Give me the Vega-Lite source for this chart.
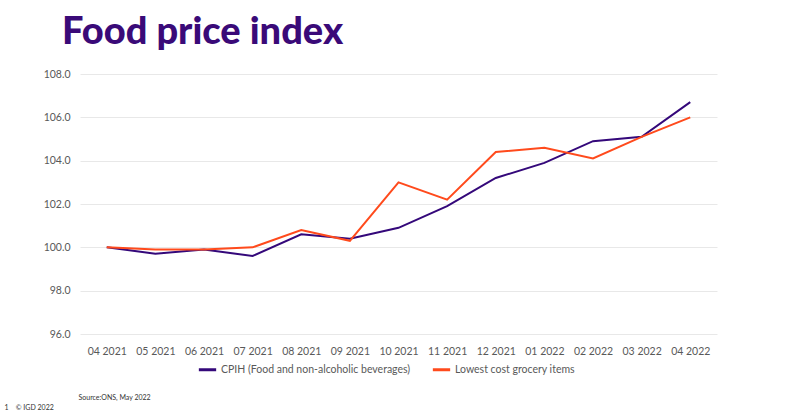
{
  "$schema": "https://vega.github.io/schema/vega-lite/v6.json",
  "autosize": {"type": "none"},
  "padding": {"left": 80, "top": 74, "right": 83, "bottom": 82},
  "width": 637,
  "height": 260,
  "background": "white",
  "title": {
    "text": "Food price index",
    "anchor": "start",
    "frame": "group",
    "dx": -18,
    "offset": 17,
    "font": "Lato",
    "fontWeight": 900,
    "fontSize": 38,
    "color": "#3a0a78"
  },
  "data": {
    "values": [
      {"month": "04 2021", "series": "CPIH (Food and non-alcoholic beverages)", "value": 100.0},
      {"month": "05 2021", "series": "CPIH (Food and non-alcoholic beverages)", "value": 99.7},
      {"month": "06 2021", "series": "CPIH (Food and non-alcoholic beverages)", "value": 99.9},
      {"month": "07 2021", "series": "CPIH (Food and non-alcoholic beverages)", "value": 99.6},
      {"month": "08 2021", "series": "CPIH (Food and non-alcoholic beverages)", "value": 100.6},
      {"month": "09 2021", "series": "CPIH (Food and non-alcoholic beverages)", "value": 100.4},
      {"month": "10 2021", "series": "CPIH (Food and non-alcoholic beverages)", "value": 100.9},
      {"month": "11 2021", "series": "CPIH (Food and non-alcoholic beverages)", "value": 101.9},
      {"month": "12 2021", "series": "CPIH (Food and non-alcoholic beverages)", "value": 103.2},
      {"month": "01 2022", "series": "CPIH (Food and non-alcoholic beverages)", "value": 103.9},
      {"month": "02 2022", "series": "CPIH (Food and non-alcoholic beverages)", "value": 104.9},
      {"month": "03 2022", "series": "CPIH (Food and non-alcoholic beverages)", "value": 105.1},
      {"month": "04 2022", "series": "CPIH (Food and non-alcoholic beverages)", "value": 106.7},
      {"month": "04 2021", "series": "Lowest cost grocery items", "value": 100.0},
      {"month": "05 2021", "series": "Lowest cost grocery items", "value": 99.9},
      {"month": "06 2021", "series": "Lowest cost grocery items", "value": 99.9},
      {"month": "07 2021", "series": "Lowest cost grocery items", "value": 100.0},
      {"month": "08 2021", "series": "Lowest cost grocery items", "value": 100.8},
      {"month": "09 2021", "series": "Lowest cost grocery items", "value": 100.3},
      {"month": "10 2021", "series": "Lowest cost grocery items", "value": 103.0},
      {"month": "11 2021", "series": "Lowest cost grocery items", "value": 102.2},
      {"month": "12 2021", "series": "Lowest cost grocery items", "value": 104.4},
      {"month": "01 2022", "series": "Lowest cost grocery items", "value": 104.6},
      {"month": "02 2022", "series": "Lowest cost grocery items", "value": 104.1},
      {"month": "03 2022", "series": "Lowest cost grocery items", "value": 105.1},
      {"month": "04 2022", "series": "Lowest cost grocery items", "value": 106.0}
    ]
  },
  "mark": {"type": "line", "strokeWidth": 2},
  "encoding": {
    "x": {
      "field": "month",
      "type": "ordinal",
      "sort": null,
      "scale": {"type": "point", "padding": 0.55},
      "axis": {
        "title": "Source:ONS, May 2022",
        "titleFont": "Lato",
        "titleFontSize": 7,
        "titleFontWeight": "normal",
        "titleColor": "#333333",
        "titleAnchor": "start",
        "titleAlign": "left",
        "titleBaseline": "middle",
        "titleX": -2,
        "titleY": 63,
        "labelAngle": 0,
        "labelFont": "Lato",
        "labelFontSize": 10.5,
        "labelColor": "#595959",
        "labelPadding": 12,
        "domain": false,
        "ticks": false,
        "grid": false
      }
    },
    "y": {
      "field": "value",
      "type": "quantitative",
      "scale": {"domain": [96, 108], "nice": false, "zero": false},
      "axis": {
        "title": "1\u00a0\u00a0\u00a0\u00a0©\u00a0IGD 2022",
        "titleFont": "Lato",
        "titleFontSize": 7,
        "titleFontWeight": "normal",
        "titleColor": "#333333",
        "titleAngle": 0,
        "titleAlign": "left",
        "titleBaseline": "middle",
        "titleX": -76,
        "titleY": 333,
        "values": [96, 98, 100, 102, 104, 106, 108],
        "format": ".1f",
        "labelFont": "Lato",
        "labelFontSize": 10.5,
        "labelColor": "#595959",
        "labelPadding": 10,
        "domain": false,
        "ticks": false,
        "gridColor": "#e8e8e8",
        "gridWidth": 1
      }
    },
    "color": {
      "field": "series",
      "type": "nominal",
      "scale": {
        "domain": ["CPIH (Food and non-alcoholic beverages)", "Lowest cost grocery items"],
        "range": ["#34087a", "#ff4a1c"]
      },
      "legend": {
        "orient": "none",
        "legendX": 117,
        "legendY": 285,
        "direction": "horizontal",
        "title": null,
        "symbolType": "stroke",
        "symbolStrokeWidth": 3,
        "symbolSize": 300,
        "labelFont": "Lato",
        "labelFontSize": 10.5,
        "labelColor": "#595959",
        "labelOffset": 3,
        "labelLimit": 400,
        "columnPadding": 15
      }
    }
  },
  "config": {"view": {"stroke": null}}
}
